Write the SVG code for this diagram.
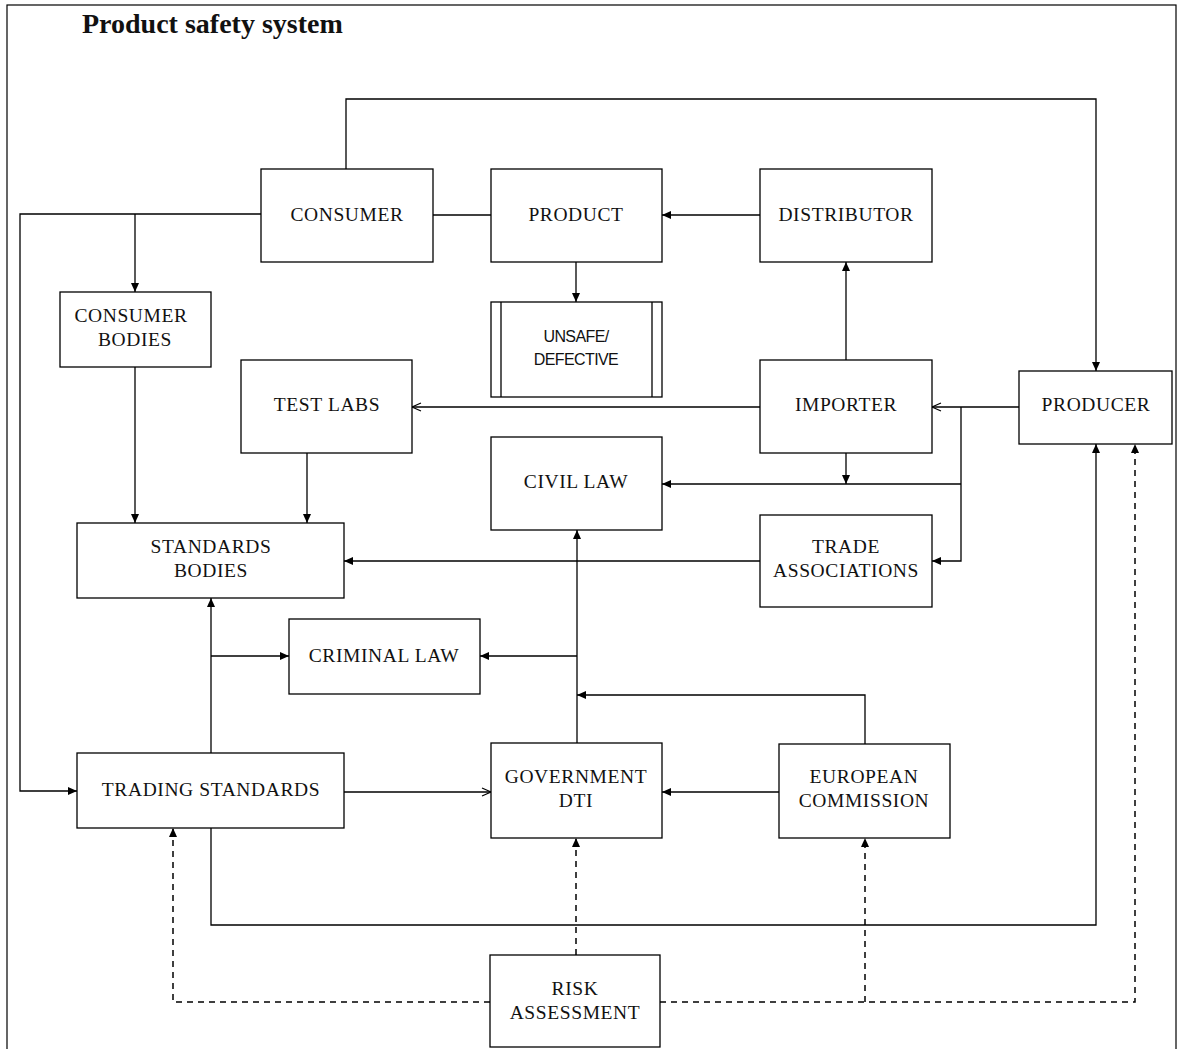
<svg xmlns="http://www.w3.org/2000/svg" width="1178" height="1049" viewBox="0 0 1178 1049">
<style>
.box{fill:#fff;stroke:#000;stroke-width:1.3}
.t{font-family:"Liberation Serif",serif;font-size:19.5px;text-anchor:middle;fill:#111;letter-spacing:0.6px}
.s{font-family:"Liberation Sans",sans-serif;font-size:16px;text-anchor:middle;fill:#111;letter-spacing:-0.6px}
.c{fill:none;stroke:#000;stroke-width:1.3}
.d{fill:none;stroke:#000;stroke-width:1.5;stroke-dasharray:6,5}
</style>
<defs>
<marker id="f" markerWidth="11" markerHeight="11" refX="10" refY="5.5" orient="auto" markerUnits="userSpaceOnUse">
<path d="M1,1.5 L10,5.5 L1,9.5 Z" fill="#000"/>
</marker>
<marker id="o" markerWidth="12" markerHeight="12" refX="10" refY="6" orient="auto" markerUnits="userSpaceOnUse">
<path d="M1,2 L10,6 L1,10" fill="none" stroke="#000" stroke-width="1.2"/>
</marker>
</defs>
<rect x="0" y="0" width="1178" height="1049" fill="#fff"/>
<rect x="7" y="5" width="1169" height="1060" fill="none" stroke="#000" stroke-width="1.2"/>
<text x="82" y="33" font-family="Liberation Serif,serif" font-size="28" font-weight="bold" fill="#111">Product safety system</text>

<g id="connectors">
<polyline class="c" points="346,169 346,99 1096,99 1096,371" marker-end="url(#f)"/>
<line class="c" x1="433" y1="215" x2="491" y2="215"/>
<line class="c" x1="760" y1="215" x2="662" y2="215" marker-end="url(#f)"/>
<line class="c" x1="576" y1="262" x2="576" y2="302" marker-end="url(#f)"/>
<line class="c" x1="846" y1="360" x2="846" y2="262" marker-end="url(#f)"/>
<polyline class="c" points="261,214 20,214 20,791 77,791" marker-end="url(#f)"/>
<line class="c" x1="135" y1="214" x2="135" y2="292" marker-end="url(#f)"/>
<line class="c" x1="135" y1="367" x2="135" y2="523" marker-end="url(#f)"/>
<line class="c" x1="307" y1="453" x2="307" y2="523" marker-end="url(#f)"/>
<line class="c" x1="760" y1="407" x2="412" y2="407" marker-end="url(#o)"/>
<line class="c" x1="1019" y1="407" x2="932" y2="407" marker-end="url(#o)"/>
<polyline class="c" points="961,407 961,561 932,561" marker-end="url(#f)"/>
<line class="c" x1="961" y1="484" x2="662" y2="484" marker-end="url(#f)"/>
<line class="c" x1="846" y1="453" x2="846" y2="484" marker-end="url(#f)"/>
<line class="c" x1="760" y1="561" x2="344" y2="561" marker-end="url(#f)"/>
<line class="c" x1="577" y1="743" x2="577" y2="530" marker-end="url(#f)"/>
<line class="c" x1="577" y1="656" x2="480" y2="656" marker-end="url(#f)"/>
<polyline class="c" points="865,744 865,695 577,695" marker-end="url(#f)"/>
<line class="c" x1="779" y1="792" x2="662" y2="792" marker-end="url(#f)"/>
<line class="c" x1="344" y1="792" x2="491" y2="792" marker-end="url(#o)"/>
<line class="c" x1="211" y1="753" x2="211" y2="598" marker-end="url(#f)"/>
<line class="c" x1="211" y1="656" x2="289" y2="656" marker-end="url(#f)"/>
<polyline class="c" points="211,828 211,925 1096,925 1096,444" marker-end="url(#f)"/>
<line class="d" x1="576" y1="955" x2="576" y2="838" marker-end="url(#f)"/>
<polyline class="d" points="490,1002 173,1002 173,828" marker-end="url(#f)"/>
<polyline class="d" points="660,1002 1135,1002 1135,444" marker-end="url(#f)"/>
<line class="d" x1="865" y1="1002" x2="865" y2="838" marker-end="url(#f)"/>
</g>

<g id="consumer"><rect class="box" x="261" y="169" width="172" height="93"/><text class="t" x="347" y="221">CONSUMER</text></g>
<g id="product"><rect class="box" x="491" y="169" width="171" height="93"/><text class="t" x="576" y="221">PRODUCT</text></g>
<g id="distributor"><rect class="box" x="760" y="169" width="172" height="93"/><text class="t" x="846" y="221">DISTRIBUTOR</text></g>
<g id="unsafe"><rect class="box" x="491" y="302" width="171" height="95"/><line class="c" x1="501" y1="302" x2="501" y2="397"/><line class="c" x1="652" y1="302" x2="652" y2="397"/><text class="s" x="576" y="342">UNSAFE/</text><text class="s" x="576" y="365">DEFECTIVE</text></g>
<g id="consumer-bodies"><rect class="box" x="60" y="292" width="151" height="75"/><text class="t" x="131" y="322">CONSUMER</text><text class="t" x="135" y="346">BODIES</text></g>
<g id="test-labs"><rect class="box" x="241" y="360" width="171" height="93"/><text class="t" x="327" y="411">TEST LABS</text></g>
<g id="importer"><rect class="box" x="760" y="360" width="172" height="93"/><text class="t" x="846" y="411">IMPORTER</text></g>
<g id="producer"><rect class="box" x="1019" y="371" width="153" height="73"/><text class="t" x="1096" y="411">PRODUCER</text></g>
<g id="civil-law"><rect class="box" x="491" y="437" width="171" height="93"/><text class="t" x="576" y="488">CIVIL LAW</text></g>
<g id="trade-associations"><rect class="box" x="760" y="515" width="172" height="92"/><text class="t" x="846" y="553">TRADE</text><text class="t" x="846" y="577">ASSOCIATIONS</text></g>
<g id="standards-bodies"><rect class="box" x="77" y="523" width="267" height="75"/><text class="t" x="211" y="553">STANDARDS</text><text class="t" x="211" y="577">BODIES</text></g>
<g id="criminal-law"><rect class="box" x="289" y="619" width="191" height="75"/><text class="t" x="384" y="662">CRIMINAL LAW</text></g>
<g id="trading-standards"><rect class="box" x="77" y="753" width="267" height="75"/><text class="t" x="211" y="796">TRADING STANDARDS</text></g>
<g id="government-dti"><rect class="box" x="491" y="743" width="171" height="95"/><text class="t" x="576" y="783">GOVERNMENT</text><text class="t" x="576" y="807">DTI</text></g>
<g id="european-commission"><rect class="box" x="779" y="744" width="171" height="94"/><text class="t" x="864" y="783">EUROPEAN</text><text class="t" x="864" y="807">COMMISSION</text></g>
<g id="risk-assessment"><rect class="box" x="490" y="955" width="170" height="92"/><text class="t" x="575" y="995">RISK</text><text class="t" x="575" y="1019">ASSESSMENT</text></g>
</svg>
